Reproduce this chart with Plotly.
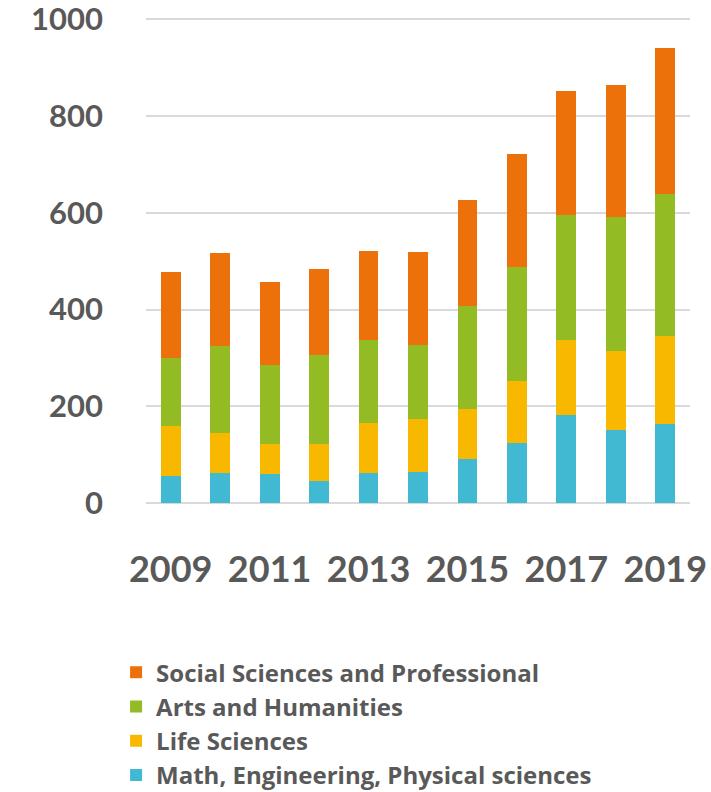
import plotly.graph_objects as go

years = [2009, 2010, 2011, 2012, 2013, 2014, 2015, 2016, 2017, 2018, 2019]
math_eng_phys = [55, 63, 61, 45, 63, 65, 92, 124, 181, 150, 163]
life_sciences = [105, 82, 60, 78, 103, 109, 102, 129, 157, 165, 182]
arts_humanities = [140, 180, 165, 183, 171, 152, 214, 236, 257, 277, 293]
social_professional = [177, 191, 171, 177, 185, 193, 219, 232, 258, 273, 303]

tick_years = [2009, 2011, 2013, 2015, 2017, 2019]
y_ticks = [0, 200, 400, 600, 800, 1000]

series = [
    ("Math, Engineering, Physical sciences", math_eng_phys, "#41B9D3"),
    ("Life Sciences", life_sciences, "#F9B800"),
    ("Arts and Humanities", arts_humanities, "#92BB24"),
    ("Social Sciences and Professional", social_professional, "#ED710A"),
]

fig = go.Figure()
for name, vals, color in series:
    fig.add_trace(go.Bar(
        x=years, y=vals, name=name, width=0.4,
        marker=dict(color=color, line=dict(width=0)),
    ))

font_family = "Lato, 'Open Sans', sans-serif"
fig.update_layout(
    width=711, height=792,
    barmode="stack",
    plot_bgcolor="white", paper_bgcolor="white",
    margin=dict(l=146, r=21, t=17, b=289, autoexpand=False),
    font=dict(family=font_family, color="#595959"),
    xaxis=dict(
        range=[2008.5, 2019.5],
        tickmode="array", tickvals=tick_years, ticktext=[str(t) for t in tick_years],
        tickfont=dict(size=36, family=font_family, weight="bold", color="#595959"),
        showgrid=False, zeroline=False, showline=False,
        ticks="", ticklabelstandoff=42, automargin=False,
        ticklabeloverflow="allow",
    ),
    yaxis=dict(
        range=[0, 1005],
        tickmode="array", tickvals=y_ticks, ticktext=[str(t) for t in y_ticks],
        tickfont=dict(size=31, family=font_family, weight="bold", color="#595959"),
        showgrid=True, gridcolor="#D9D9D9", gridwidth=1.5,
        zeroline=True, zerolinecolor="#D9D9D9", zerolinewidth=1.5,
        showline=False, ticks="", ticklabelstandoff=42, automargin=False,
        ticklabeloverflow="allow",
    ),
    legend=dict(
        orientation="v", traceorder="reversed",
        x=-0.055, xanchor="left", y=-0.303, yanchor="top",
        font=dict(size=24, family="'Open Sans', Lato, sans-serif", weight="bold", color="#595959"),
        bgcolor="rgba(0,0,0,0)", itemsizing="constant",
    ),
    showlegend=True,
)

fig.write_html("out.html")
